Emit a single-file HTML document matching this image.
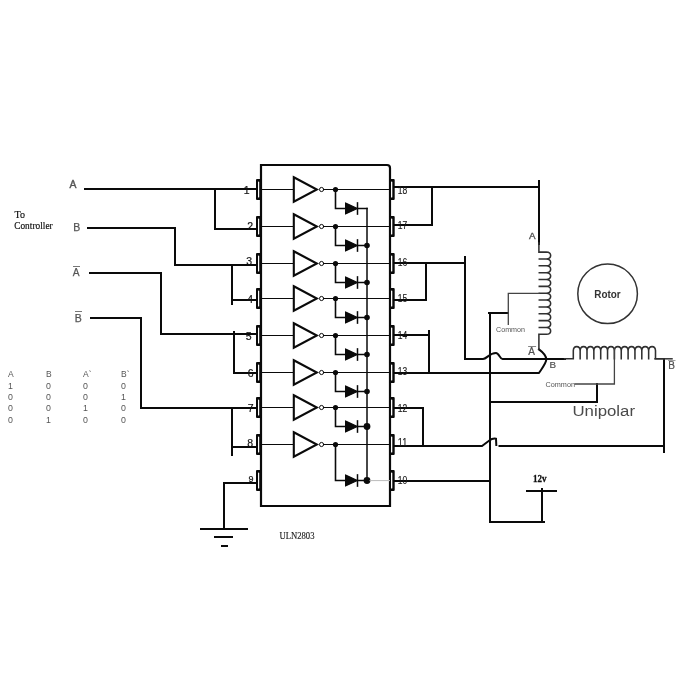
<!DOCTYPE html>
<html><head><meta charset="utf-8"><style>
html,body{margin:0;padding:0;background:#fff;width:700px;height:700px;overflow:hidden}
svg{display:block;will-change:transform}
</style></head><body>
<svg width="700" height="700" viewBox="0 0 700 700" stroke-linecap="square">
<path d="M261 506 V165 H387 Q390 165 390 168 V506 Z" stroke="#0a0a0a" stroke-width="2.2" fill="none" />
<rect x="256" y="179.0" width="5.5" height="21" rx="1" fill="#0a0a0a"/>
<rect x="258" y="181.5" width="1.2" height="16" rx="0.6" fill="#fff"/>
<rect x="389" y="179.0" width="5.7" height="21" rx="1" fill="#0a0a0a"/>
<rect x="391" y="181.5" width="1.3" height="16" rx="0.6" fill="#fff"/>
<rect x="256" y="216.0" width="5.5" height="21" rx="1" fill="#0a0a0a"/>
<rect x="258" y="218.5" width="1.2" height="16" rx="0.6" fill="#fff"/>
<rect x="389" y="216.0" width="5.7" height="21" rx="1" fill="#0a0a0a"/>
<rect x="391" y="218.5" width="1.3" height="16" rx="0.6" fill="#fff"/>
<rect x="256" y="253.0" width="5.5" height="21" rx="1" fill="#0a0a0a"/>
<rect x="258" y="255.5" width="1.2" height="16" rx="0.6" fill="#fff"/>
<rect x="389" y="253.0" width="5.7" height="21" rx="1" fill="#0a0a0a"/>
<rect x="391" y="255.5" width="1.3" height="16" rx="0.6" fill="#fff"/>
<rect x="256" y="288.0" width="5.5" height="21" rx="1" fill="#0a0a0a"/>
<rect x="258" y="290.5" width="1.2" height="16" rx="0.6" fill="#fff"/>
<rect x="389" y="288.0" width="5.7" height="21" rx="1" fill="#0a0a0a"/>
<rect x="391" y="290.5" width="1.3" height="16" rx="0.6" fill="#fff"/>
<rect x="256" y="325.0" width="5.5" height="21" rx="1" fill="#0a0a0a"/>
<rect x="258" y="327.5" width="1.2" height="16" rx="0.6" fill="#fff"/>
<rect x="389" y="325.0" width="5.7" height="21" rx="1" fill="#0a0a0a"/>
<rect x="391" y="327.5" width="1.3" height="16" rx="0.6" fill="#fff"/>
<rect x="256" y="362.0" width="5.5" height="21" rx="1" fill="#0a0a0a"/>
<rect x="258" y="364.5" width="1.2" height="16" rx="0.6" fill="#fff"/>
<rect x="389" y="362.0" width="5.7" height="21" rx="1" fill="#0a0a0a"/>
<rect x="391" y="364.5" width="1.3" height="16" rx="0.6" fill="#fff"/>
<rect x="256" y="397.0" width="5.5" height="21" rx="1" fill="#0a0a0a"/>
<rect x="258" y="399.5" width="1.2" height="16" rx="0.6" fill="#fff"/>
<rect x="389" y="397.0" width="5.7" height="21" rx="1" fill="#0a0a0a"/>
<rect x="391" y="399.5" width="1.3" height="16" rx="0.6" fill="#fff"/>
<rect x="256" y="434.0" width="5.5" height="21" rx="1" fill="#0a0a0a"/>
<rect x="258" y="436.5" width="1.2" height="16" rx="0.6" fill="#fff"/>
<rect x="389" y="434.0" width="5.7" height="21" rx="1" fill="#0a0a0a"/>
<rect x="391" y="436.5" width="1.3" height="16" rx="0.6" fill="#fff"/>
<rect x="256" y="470.0" width="5.5" height="21" rx="1" fill="#0a0a0a"/>
<rect x="258" y="472.5" width="1.2" height="16" rx="0.6" fill="#fff"/>
<rect x="389" y="470.0" width="5.7" height="21" rx="1" fill="#0a0a0a"/>
<rect x="391" y="472.5" width="1.3" height="16" rx="0.6" fill="#fff"/>
<line x1="261" y1="189.5" x2="293.5" y2="189.5" stroke="#0a0a0a" stroke-width="1.1"/>
<path d="M293.8 177.3 L316.8 189.5 L293.8 201.7 Z" stroke="#0a0a0a" stroke-width="2.1" fill="none" stroke-linejoin="miter"/>
<circle cx="321.6" cy="189.5" r="2.1" fill="#fff" stroke="#0a0a0a" stroke-width="1"/>
<line x1="323.7" y1="189.5" x2="389.5" y2="189.5" stroke="#0a0a0a" stroke-width="1.1"/>
<circle cx="335.5" cy="189.5" r="2.6" fill="#0a0a0a"/>
<path d="M335.5 189.5 V208.5 H346" stroke="#0a0a0a" stroke-width="1.6" fill="none" />
<path d="M345.6 203.1 L357.3 208.5 L345.6 213.9 Z" stroke="#0a0a0a" stroke-width="1.2" fill="#0a0a0a" />
<line x1="357.5" y1="202.9" x2="357.5" y2="214.1" stroke="#0a0a0a" stroke-width="1.5"/>
<line x1="357.5" y1="208.5" x2="367" y2="208.5" stroke="#0a0a0a" stroke-width="1.5"/>
<line x1="261" y1="226.5" x2="293.5" y2="226.5" stroke="#0a0a0a" stroke-width="1.1"/>
<path d="M293.8 214.3 L316.8 226.5 L293.8 238.7 Z" stroke="#0a0a0a" stroke-width="2.1" fill="none" stroke-linejoin="miter"/>
<circle cx="321.6" cy="226.5" r="2.1" fill="#fff" stroke="#0a0a0a" stroke-width="1"/>
<line x1="323.7" y1="226.5" x2="389.5" y2="226.5" stroke="#0a0a0a" stroke-width="1.1"/>
<circle cx="335.5" cy="226.5" r="2.6" fill="#0a0a0a"/>
<path d="M335.5 226.5 V245.5 H346" stroke="#0a0a0a" stroke-width="1.6" fill="none" />
<path d="M345.6 240.1 L357.3 245.5 L345.6 250.9 Z" stroke="#0a0a0a" stroke-width="1.2" fill="#0a0a0a" />
<line x1="357.5" y1="239.9" x2="357.5" y2="251.1" stroke="#0a0a0a" stroke-width="1.5"/>
<line x1="357.5" y1="245.5" x2="367" y2="245.5" stroke="#0a0a0a" stroke-width="1.5"/>
<circle cx="367" cy="245.5" r="2.8" fill="#0a0a0a"/>
<line x1="261" y1="263.5" x2="293.5" y2="263.5" stroke="#0a0a0a" stroke-width="1.1"/>
<path d="M293.8 251.3 L316.8 263.5 L293.8 275.7 Z" stroke="#0a0a0a" stroke-width="2.1" fill="none" stroke-linejoin="miter"/>
<circle cx="321.6" cy="263.5" r="2.1" fill="#fff" stroke="#0a0a0a" stroke-width="1"/>
<line x1="323.7" y1="263.5" x2="389.5" y2="263.5" stroke="#0a0a0a" stroke-width="1.1"/>
<circle cx="335.5" cy="263.5" r="2.6" fill="#0a0a0a"/>
<path d="M335.5 263.5 V282.5 H346" stroke="#0a0a0a" stroke-width="1.6" fill="none" />
<path d="M345.6 277.1 L357.3 282.5 L345.6 287.9 Z" stroke="#0a0a0a" stroke-width="1.2" fill="#0a0a0a" />
<line x1="357.5" y1="276.9" x2="357.5" y2="288.1" stroke="#0a0a0a" stroke-width="1.5"/>
<line x1="357.5" y1="282.5" x2="367" y2="282.5" stroke="#0a0a0a" stroke-width="1.5"/>
<circle cx="367" cy="282.5" r="2.8" fill="#0a0a0a"/>
<line x1="261" y1="298.5" x2="293.5" y2="298.5" stroke="#0a0a0a" stroke-width="1.1"/>
<path d="M293.8 286.3 L316.8 298.5 L293.8 310.7 Z" stroke="#0a0a0a" stroke-width="2.1" fill="none" stroke-linejoin="miter"/>
<circle cx="321.6" cy="298.5" r="2.1" fill="#fff" stroke="#0a0a0a" stroke-width="1"/>
<line x1="323.7" y1="298.5" x2="389.5" y2="298.5" stroke="#0a0a0a" stroke-width="1.1"/>
<circle cx="335.5" cy="298.5" r="2.6" fill="#0a0a0a"/>
<path d="M335.5 298.5 V317.5 H346" stroke="#0a0a0a" stroke-width="1.6" fill="none" />
<path d="M345.6 312.1 L357.3 317.5 L345.6 322.9 Z" stroke="#0a0a0a" stroke-width="1.2" fill="#0a0a0a" />
<line x1="357.5" y1="311.9" x2="357.5" y2="323.1" stroke="#0a0a0a" stroke-width="1.5"/>
<line x1="357.5" y1="317.5" x2="367" y2="317.5" stroke="#0a0a0a" stroke-width="1.5"/>
<circle cx="367" cy="317.5" r="2.8" fill="#0a0a0a"/>
<line x1="261" y1="335.5" x2="293.5" y2="335.5" stroke="#0a0a0a" stroke-width="1.1"/>
<path d="M293.8 323.3 L316.8 335.5 L293.8 347.7 Z" stroke="#0a0a0a" stroke-width="2.1" fill="none" stroke-linejoin="miter"/>
<circle cx="321.6" cy="335.5" r="2.1" fill="#fff" stroke="#0a0a0a" stroke-width="1"/>
<line x1="323.7" y1="335.5" x2="389.5" y2="335.5" stroke="#0a0a0a" stroke-width="1.1"/>
<circle cx="335.5" cy="335.5" r="2.6" fill="#0a0a0a"/>
<path d="M335.5 335.5 V354.5 H346" stroke="#0a0a0a" stroke-width="1.6" fill="none" />
<path d="M345.6 349.1 L357.3 354.5 L345.6 359.9 Z" stroke="#0a0a0a" stroke-width="1.2" fill="#0a0a0a" />
<line x1="357.5" y1="348.9" x2="357.5" y2="360.1" stroke="#0a0a0a" stroke-width="1.5"/>
<line x1="357.5" y1="354.5" x2="367" y2="354.5" stroke="#0a0a0a" stroke-width="1.5"/>
<circle cx="367" cy="354.5" r="2.8" fill="#0a0a0a"/>
<line x1="261" y1="372.5" x2="293.5" y2="372.5" stroke="#0a0a0a" stroke-width="1.1"/>
<path d="M293.8 360.3 L316.8 372.5 L293.8 384.7 Z" stroke="#0a0a0a" stroke-width="2.1" fill="none" stroke-linejoin="miter"/>
<circle cx="321.6" cy="372.5" r="2.1" fill="#fff" stroke="#0a0a0a" stroke-width="1"/>
<line x1="323.7" y1="372.5" x2="389.5" y2="372.5" stroke="#0a0a0a" stroke-width="1.1"/>
<circle cx="335.5" cy="372.5" r="2.6" fill="#0a0a0a"/>
<path d="M335.5 372.5 V391.5 H346" stroke="#0a0a0a" stroke-width="1.6" fill="none" />
<path d="M345.6 386.1 L357.3 391.5 L345.6 396.9 Z" stroke="#0a0a0a" stroke-width="1.2" fill="#0a0a0a" />
<line x1="357.5" y1="385.9" x2="357.5" y2="397.1" stroke="#0a0a0a" stroke-width="1.5"/>
<line x1="357.5" y1="391.5" x2="367" y2="391.5" stroke="#0a0a0a" stroke-width="1.5"/>
<circle cx="367" cy="391.5" r="2.8" fill="#0a0a0a"/>
<line x1="261" y1="407.5" x2="293.5" y2="407.5" stroke="#0a0a0a" stroke-width="1.1"/>
<path d="M293.8 395.3 L316.8 407.5 L293.8 419.7 Z" stroke="#0a0a0a" stroke-width="2.1" fill="none" stroke-linejoin="miter"/>
<circle cx="321.6" cy="407.5" r="2.1" fill="#fff" stroke="#0a0a0a" stroke-width="1"/>
<line x1="323.7" y1="407.5" x2="389.5" y2="407.5" stroke="#0a0a0a" stroke-width="1.1"/>
<circle cx="335.5" cy="407.5" r="2.6" fill="#0a0a0a"/>
<path d="M335.5 407.5 V426.5 H346" stroke="#0a0a0a" stroke-width="1.6" fill="none" />
<path d="M345.6 421.1 L357.3 426.5 L345.6 431.9 Z" stroke="#0a0a0a" stroke-width="1.2" fill="#0a0a0a" />
<line x1="357.5" y1="420.9" x2="357.5" y2="432.1" stroke="#0a0a0a" stroke-width="1.5"/>
<line x1="357.5" y1="426.5" x2="367" y2="426.5" stroke="#0a0a0a" stroke-width="1.5"/>
<circle cx="367" cy="426.5" r="3.4" fill="#0a0a0a"/>
<line x1="261" y1="444.5" x2="293.5" y2="444.5" stroke="#0a0a0a" stroke-width="1.1"/>
<path d="M293.8 432.3 L316.8 444.5 L293.8 456.7 Z" stroke="#0a0a0a" stroke-width="2.1" fill="none" stroke-linejoin="miter"/>
<circle cx="321.6" cy="444.5" r="2.1" fill="#fff" stroke="#0a0a0a" stroke-width="1"/>
<line x1="323.7" y1="444.5" x2="389.5" y2="444.5" stroke="#0a0a0a" stroke-width="1.1"/>
<circle cx="335.5" cy="444.5" r="2.6" fill="#0a0a0a"/>
<path d="M335.5 444.5 V480.5 H346" stroke="#0a0a0a" stroke-width="1.6" fill="none" />
<path d="M345.6 475.1 L357.3 480.5 L345.6 485.9 Z" stroke="#0a0a0a" stroke-width="1.2" fill="#0a0a0a" />
<line x1="357.5" y1="474.9" x2="357.5" y2="486.1" stroke="#0a0a0a" stroke-width="1.5"/>
<line x1="357.5" y1="480.5" x2="367" y2="480.5" stroke="#0a0a0a" stroke-width="1.5"/>
<circle cx="367" cy="480.5" r="3.4" fill="#0a0a0a"/>
<line x1="367" y1="208.5" x2="367" y2="480.6" stroke="#0a0a0a" stroke-width="1.5"/>
<line x1="370" y1="480.6" x2="389.5" y2="480.6" stroke="#bbb" stroke-width="1"/>
<path d="M85 189 H256" stroke="#0a0a0a" stroke-width="2.0" fill="none" />
<path d="M215 189 V229 H256" stroke="#0a0a0a" stroke-width="2.0" fill="none" />
<path d="M88 228 H175 V265 H256" stroke="#0a0a0a" stroke-width="2.0" fill="none" />
<path d="M232 265 V304 M232 300 H256" stroke="#0a0a0a" stroke-width="2.0" fill="none" />
<path d="M90 273 H161 V334 H256" stroke="#0a0a0a" stroke-width="2.0" fill="none" />
<path d="M234 332 V373 M234 373 H256" stroke="#0a0a0a" stroke-width="2.0" fill="none" />
<path d="M91 318 H141 V408 H256" stroke="#0a0a0a" stroke-width="2.0" fill="none" />
<path d="M232 408 V455 M232 447 H256" stroke="#0a0a0a" stroke-width="2.0" fill="none" />
<path d="M256 483 H224 V529" stroke="#0a0a0a" stroke-width="2.0" fill="none" />
<path d="M201 529 H247" stroke="#0a0a0a" stroke-width="2" fill="none" />
<path d="M215 537 H232" stroke="#0a0a0a" stroke-width="2" fill="none" />
<path d="M222 546 H227" stroke="#0a0a0a" stroke-width="2" fill="none" />
<path d="M394 187 H539 M539 181 V244" stroke="#0a0a0a" stroke-width="2.0" fill="none" />
<path d="M394 225 H432 V187" stroke="#0a0a0a" stroke-width="2.0" fill="none" />
<path d="M394 263 H465 M465 257 V359 H483 C487 359 489 353 496 353 C499 353 500 359 502.5 359 H565" stroke="#0a0a0a" stroke-width="2.0" fill="none" />
<path d="M394 300 H426 V263" stroke="#0a0a0a" stroke-width="2.0" fill="none" />
<path d="M394 335 H429 M429 331 V373" stroke="#0a0a0a" stroke-width="2.0" fill="none" />
<path d="M394 373 H539 C541.5 369 546.3 363 546.3 359.5 C546.3 355 542.5 352 539 349.4" stroke="#0a0a0a" stroke-width="2.0" fill="none" stroke-linejoin="round"/>
<path d="M394 408 H423 V446" stroke="#0a0a0a" stroke-width="2.0" fill="none" />
<path d="M394 446 H482 L489 440.8 C491 439.3 494 438.3 496 438.8 L496.3 445 M499.5 446 H664" stroke="#0a0a0a" stroke-width="2.0" fill="none" />
<path d="M394 481 H490" stroke="#0a0a0a" stroke-width="2.0" fill="none" />
<path d="M489 313 H508 M490 313 V522 H544 M542 489 V522 M527 491 H556" stroke="#0a0a0a" stroke-width="2.0" fill="none" />
<path d="M490 402 H597 V384" stroke="#0a0a0a" stroke-width="2.0" fill="none" />
<path d="M664 452 V359" stroke="#0a0a0a" stroke-width="2.0" fill="none" />
<path d="M655 358.8 H672" stroke="#333" stroke-width="1.5" fill="none" />
<path d="M538.9 243 V252.1 M539.3 252.10 H546.3 A4.6 3.43 0 0 1 546.3 258.95 H539.3 M539.3 258.95 H546.3 A4.6 3.43 0 0 1 546.3 265.80 H539.3 M539.3 265.80 H546.3 A4.6 3.43 0 0 1 546.3 272.65 H539.3 M539.3 272.65 H546.3 A4.6 3.43 0 0 1 546.3 279.50 H539.3 M539.3 279.50 H546.3 A4.6 3.43 0 0 1 546.3 286.35 H539.3 M539.3 286.35 H546.3 A4.6 3.43 0 0 1 546.3 293.20 H539.3 M539.3 293.20 H546.3 A4.6 3.43 0 0 1 546.3 300.05 H539.3 M539.3 300.05 H546.3 A4.6 3.43 0 0 1 546.3 306.90 H539.3 M539.3 306.90 H546.3 A4.6 3.43 0 0 1 546.3 313.75 H539.3 M539.3 313.75 H546.3 A4.6 3.43 0 0 1 546.3 320.60 H539.3 M539.3 320.60 H546.3 A4.6 3.43 0 0 1 546.3 327.45 H539.3 M539.3 327.45 H546.3 A4.6 3.43 0 0 1 546.3 334.30 H539.3 M538.9 334.3 V349.4" stroke="#303030" stroke-width="1.55" fill="none" />
<path d="M538.9 293.3 H508.3 V324.3" stroke="#444" stroke-width="1.3" fill="none" />
<path d="M564.6 358.8 H573.3 M573.30 358.6 V350.6 A3.43 4.2 0 0 1 580.15 350.6 V358.6 M580.15 358.6 V350.6 A3.43 4.2 0 0 1 587.00 350.6 V358.6 M587.00 358.6 V350.6 A3.43 4.2 0 0 1 593.85 350.6 V358.6 M593.85 358.6 V350.6 A3.43 4.2 0 0 1 600.70 350.6 V358.6 M600.70 358.6 V350.6 A3.43 4.2 0 0 1 607.55 350.6 V358.6 M607.55 358.6 V350.6 A3.43 4.2 0 0 1 614.40 350.6 V358.6 M614.40 358.6 V350.6 A3.43 4.2 0 0 1 621.25 350.6 V358.6 M621.25 358.6 V350.6 A3.43 4.2 0 0 1 628.10 350.6 V358.6 M628.10 358.6 V350.6 A3.43 4.2 0 0 1 634.95 350.6 V358.6 M634.95 358.6 V350.6 A3.43 4.2 0 0 1 641.80 350.6 V358.6 M641.80 358.6 V350.6 A3.43 4.2 0 0 1 648.65 350.6 V358.6 M648.65 358.6 V350.6 A3.43 4.2 0 0 1 655.50 350.6 V358.6 M655.5 358.8 H664" stroke="#303030" stroke-width="1.55" fill="none" />
<path d="M614.4 349 V384 H575" stroke="#444" stroke-width="1.3" fill="none" />
<circle cx="607.6" cy="293.8" r="29.8" fill="none" stroke="#333" stroke-width="1.5"/>
<text x="594.3" y="298.3" font-family="Liberation Sans" font-size="11.5" fill="#333" font-weight="bold" text-anchor="start" textLength="26.4" lengthAdjust="spacingAndGlyphs" >Rotor</text>
<text x="14.5" y="218" font-family="Liberation Serif" font-size="10.5" fill="#111" font-weight="normal" text-anchor="start" textLength="10.5" lengthAdjust="spacingAndGlyphs" stroke="#111" stroke-width="0.2">To</text>
<text x="14.2" y="229" font-family="Liberation Serif" font-size="10.5" fill="#111" font-weight="normal" text-anchor="start" textLength="38.5" lengthAdjust="spacingAndGlyphs" stroke="#111" stroke-width="0.2">Controller</text>
<text x="69.6" y="188.4" font-family="Liberation Sans" font-size="10.4" fill="#555" font-weight="normal" text-anchor="start" stroke="#555" stroke-width="0.4">A</text>
<text x="73.3" y="231" font-family="Liberation Sans" font-size="10.5" fill="#555" font-weight="normal" text-anchor="start" stroke="#555" stroke-width="0.25">B</text>
<text x="72.8" y="275.5" font-family="Liberation Sans" font-size="10.2" fill="#555" font-weight="normal" text-anchor="start" stroke="#555" stroke-width="0.25">A</text>
<line x1="73.5" y1="266.5" x2="79.5" y2="266.5" stroke="#555" stroke-width="0.8"/>
<text x="74.8" y="322" font-family="Liberation Sans" font-size="10.5" fill="#555" font-weight="normal" text-anchor="start" stroke="#555" stroke-width="0.25">B</text>
<line x1="75.5" y1="311.5" x2="81.5" y2="311.5" stroke="#555" stroke-width="0.8"/>
<text x="8" y="376.6" font-family="Liberation Sans" font-size="8.5" fill="#555" font-weight="normal" text-anchor="start" >A</text>
<text x="46" y="376.6" font-family="Liberation Sans" font-size="8.5" fill="#555" font-weight="normal" text-anchor="start" >B</text>
<text x="83" y="376.6" font-family="Liberation Sans" font-size="8.5" fill="#555" font-weight="normal" text-anchor="start" >A`</text>
<text x="121" y="376.6" font-family="Liberation Sans" font-size="8.5" fill="#555" font-weight="normal" text-anchor="start" >B`</text>
<text x="8" y="388.8" font-family="Liberation Sans" font-size="8.8" fill="#555" font-weight="normal" text-anchor="start" >1</text>
<text x="46" y="388.8" font-family="Liberation Sans" font-size="8.8" fill="#555" font-weight="normal" text-anchor="start" >0</text>
<text x="83" y="388.8" font-family="Liberation Sans" font-size="8.8" fill="#555" font-weight="normal" text-anchor="start" >0</text>
<text x="121" y="388.8" font-family="Liberation Sans" font-size="8.8" fill="#555" font-weight="normal" text-anchor="start" >0</text>
<text x="8" y="400.1" font-family="Liberation Sans" font-size="8.8" fill="#555" font-weight="normal" text-anchor="start" >0</text>
<text x="46" y="400.1" font-family="Liberation Sans" font-size="8.8" fill="#555" font-weight="normal" text-anchor="start" >0</text>
<text x="83" y="400.1" font-family="Liberation Sans" font-size="8.8" fill="#555" font-weight="normal" text-anchor="start" >0</text>
<text x="121" y="400.1" font-family="Liberation Sans" font-size="8.8" fill="#555" font-weight="normal" text-anchor="start" >1</text>
<text x="8" y="411.40000000000003" font-family="Liberation Sans" font-size="8.8" fill="#555" font-weight="normal" text-anchor="start" >0</text>
<text x="46" y="411.40000000000003" font-family="Liberation Sans" font-size="8.8" fill="#555" font-weight="normal" text-anchor="start" >0</text>
<text x="83" y="411.40000000000003" font-family="Liberation Sans" font-size="8.8" fill="#555" font-weight="normal" text-anchor="start" >1</text>
<text x="121" y="411.40000000000003" font-family="Liberation Sans" font-size="8.8" fill="#555" font-weight="normal" text-anchor="start" >0</text>
<text x="8" y="422.70000000000005" font-family="Liberation Sans" font-size="8.8" fill="#555" font-weight="normal" text-anchor="start" >0</text>
<text x="46" y="422.70000000000005" font-family="Liberation Sans" font-size="8.8" fill="#555" font-weight="normal" text-anchor="start" >1</text>
<text x="83" y="422.70000000000005" font-family="Liberation Sans" font-size="8.8" fill="#555" font-weight="normal" text-anchor="start" >0</text>
<text x="121" y="422.70000000000005" font-family="Liberation Sans" font-size="8.8" fill="#555" font-weight="normal" text-anchor="start" >0</text>
<text x="249.5" y="194.3" font-family="Liberation Sans" font-size="10.5" fill="#111" font-weight="normal" text-anchor="end" stroke="#111" stroke-width="0.2">1</text>
<text x="253" y="229.8" font-family="Liberation Sans" font-size="10.5" fill="#111" font-weight="normal" text-anchor="end" stroke="#111" stroke-width="0.2">2</text>
<text x="252" y="265" font-family="Liberation Sans" font-size="10.5" fill="#111" font-weight="normal" text-anchor="end" stroke="#111" stroke-width="0.2">3</text>
<text x="253" y="303" font-family="Liberation Sans" font-size="10.5" fill="#111" font-weight="normal" text-anchor="end" stroke="#111" stroke-width="0.2">4</text>
<text x="251.5" y="339.5" font-family="Liberation Sans" font-size="10.5" fill="#111" font-weight="normal" text-anchor="end" stroke="#111" stroke-width="0.2">5</text>
<text x="253.5" y="376.5" font-family="Liberation Sans" font-size="10.5" fill="#111" font-weight="normal" text-anchor="end" stroke="#111" stroke-width="0.2">6</text>
<text x="253.5" y="412" font-family="Liberation Sans" font-size="10.5" fill="#111" font-weight="normal" text-anchor="end" stroke="#111" stroke-width="0.2">7</text>
<text x="253" y="446.5" font-family="Liberation Sans" font-size="10.5" fill="#111" font-weight="normal" text-anchor="end" stroke="#111" stroke-width="0.2">8</text>
<text x="253.5" y="482" font-family="Liberation Sans" font-size="9" fill="#111" font-weight="normal" text-anchor="end" stroke="#111" stroke-width="0.2">9</text>
<text x="397.8" y="194.3" font-family="Liberation Sans" font-size="11" fill="#1a1a1a" font-weight="normal" text-anchor="start" textLength="9.5" lengthAdjust="spacingAndGlyphs" stroke="#1a1a1a" stroke-width="0.15">18</text>
<text x="397.8" y="229" font-family="Liberation Sans" font-size="11" fill="#1a1a1a" font-weight="normal" text-anchor="start" textLength="9.5" lengthAdjust="spacingAndGlyphs" stroke="#1a1a1a" stroke-width="0.15">17</text>
<text x="397.8" y="266.3" font-family="Liberation Sans" font-size="11" fill="#1a1a1a" font-weight="normal" text-anchor="start" textLength="9.5" lengthAdjust="spacingAndGlyphs" stroke="#1a1a1a" stroke-width="0.15">16</text>
<text x="397.8" y="302.3" font-family="Liberation Sans" font-size="11" fill="#1a1a1a" font-weight="normal" text-anchor="start" textLength="9.5" lengthAdjust="spacingAndGlyphs" stroke="#1a1a1a" stroke-width="0.15">15</text>
<text x="397.8" y="339.1" font-family="Liberation Sans" font-size="11" fill="#1a1a1a" font-weight="normal" text-anchor="start" textLength="9.5" lengthAdjust="spacingAndGlyphs" stroke="#1a1a1a" stroke-width="0.15">14</text>
<text x="397.8" y="375.3" font-family="Liberation Sans" font-size="11" fill="#1a1a1a" font-weight="normal" text-anchor="start" textLength="9.5" lengthAdjust="spacingAndGlyphs" stroke="#1a1a1a" stroke-width="0.15">13</text>
<text x="397.8" y="411.7" font-family="Liberation Sans" font-size="11" fill="#1a1a1a" font-weight="normal" text-anchor="start" textLength="9.5" lengthAdjust="spacingAndGlyphs" stroke="#1a1a1a" stroke-width="0.15">12</text>
<text x="397.8" y="446.4" font-family="Liberation Sans" font-size="11" fill="#1a1a1a" font-weight="normal" text-anchor="start" textLength="9.5" lengthAdjust="spacingAndGlyphs" stroke="#1a1a1a" stroke-width="0.15">11</text>
<text x="397.8" y="484.3" font-family="Liberation Sans" font-size="11" fill="#1a1a1a" font-weight="normal" text-anchor="start" textLength="9.5" lengthAdjust="spacingAndGlyphs" stroke="#1a1a1a" stroke-width="0.15">10</text>
<text x="529" y="239.3" font-family="Liberation Sans" font-size="9.8" fill="#505050" font-weight="normal" text-anchor="start" stroke="#505050" stroke-width="0.35">A</text>
<text x="528.3" y="355.4" font-family="Liberation Sans" font-size="10" fill="#505050" font-weight="normal" text-anchor="start" stroke="#505050" stroke-width="0.2">A</text>
<line x1="528.6" y1="346.5" x2="535.6" y2="346.5" stroke="#666" stroke-width="0.8"/>
<text x="549.6" y="368.4" font-family="Liberation Sans" font-size="9.8" fill="#505050" font-weight="normal" text-anchor="start" stroke="#505050" stroke-width="0.2">B</text>
<text x="668.3" y="368.7" font-family="Liberation Sans" font-size="10" fill="#505050" font-weight="normal" text-anchor="start" stroke="#505050" stroke-width="0.2">B</text>
<line x1="668.5" y1="360.5" x2="675" y2="360.5" stroke="#888" stroke-width="0.8"/>
<text x="496" y="331.5" font-family="Liberation Sans" font-size="7" fill="#555" font-weight="normal" text-anchor="start" textLength="29" lengthAdjust="spacingAndGlyphs" >Common</text>
<text x="545.5" y="386.5" font-family="Liberation Sans" font-size="7" fill="#555" font-weight="normal" text-anchor="start" textLength="29.5" lengthAdjust="spacingAndGlyphs" >Common</text>
<text x="572.5" y="415.7" font-family="Liberation Sans" font-size="15.5" fill="#4a4a4a" font-weight="normal" text-anchor="start" textLength="62.5" lengthAdjust="spacingAndGlyphs" >Unipolar</text>
<text x="533" y="482" font-family="Liberation Serif" font-size="9.8" fill="#111" font-weight="bold" text-anchor="start" textLength="13.5" lengthAdjust="spacingAndGlyphs" stroke="#111" stroke-width="0.3">12v</text>
<text x="279.5" y="539.4" font-family="Liberation Serif" font-size="9.5" fill="#222" font-weight="normal" text-anchor="start" textLength="35" lengthAdjust="spacingAndGlyphs" stroke="#222" stroke-width="0.15">ULN2803</text>
</svg>
</body></html>
